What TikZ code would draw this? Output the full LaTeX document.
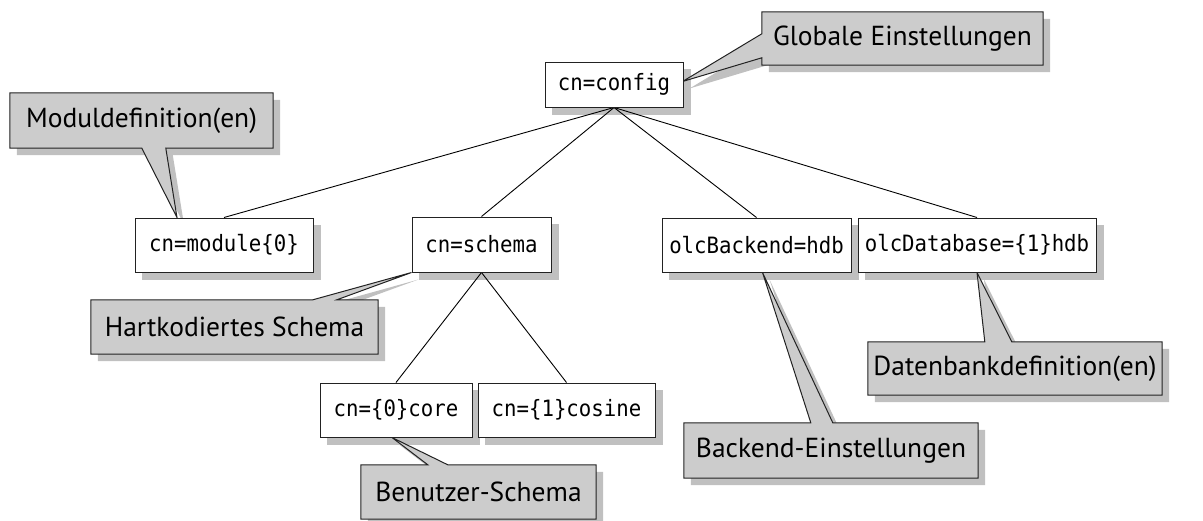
\documentclass[tikz,border=0pt]{standalone}
\usepackage{fontspec}
\setmainfont{PT Sans}
\setmonofont[FakeStretch=0.92]{DejaVu Sans Mono}
\usetikzlibrary{calc}
\pgfdeclarelayer{shadowlayer}
\pgfdeclarelayer{linelayer}
\pgfdeclarelayer{calloutlayer}
\pgfsetlayers{shadowlayer,linelayer,calloutlayer,main}
\definecolor{calloutgray}{HTML}{CCCCCC}
\definecolor{shadowgray}{HTML}{C0C0C0}
\definecolor{edgegray}{HTML}{222222}
\newcommand\pGlob{(glob.north west) -- (glob.north east) -- (glob.south east) -- (glob.south west) -- ($(glob.north west)+(0,46)$) -- ($(config.east)+(-1,-3)$) -- ($(glob.north west)+(0,22)$) -- cycle}
\newcommand\pMd{(md.north west) -- (md.north east) -- (md.south east) -- ($(md.south west)+(156,0)$) -- ($(module.north)+(-47,0)$) -- ($(md.south west)+(132,0)$) -- (md.south west) -- cycle}
\newcommand\pHk{(hk.north west) -- ($(hk.north west)+(222,0)$) -- (schema.south west) -- ($(hk.north west)+(246,0)$) -- (hk.north east) -- (hk.south east) -- (hk.south west) -- cycle}
\newcommand\pBs{(bs.north west) -- ($(bs.north west)+(67,0)$) -- ($(core.south)+(-4,0)$) -- ($(bs.north west)+(87,0)$) -- (bs.north east) -- (bs.south east) -- (bs.south west) -- cycle}
\newcommand\pDb{(db.north west) -- ($(db.north west)+(117,0)$) -- (database.south) -- ($(db.north west)+(144,0)$) -- (db.north east) -- (db.south east) -- (db.south west) -- cycle}
\newcommand\pBe{(be.north west) -- ($(be.north west)+(127,0)$) -- ($(backend.south)+(6,0)$) -- ($(be.north west)+(149,0)$) -- (be.north east) -- (be.south east) -- (be.south west) -- cycle}
\begin{document}
\begin{tikzpicture}[x=1pt,y=-1pt,
  entry/.style={draw=edgegray, line width=1pt, fill=white, font=\fontsize{22.5}{26}\selectfont\ttfamily, inner sep=0pt, anchor=center},
  note/.style={font=\fontsize{27.5}{31}\selectfont, inner sep=0pt, anchor=center},
  balloon/.style={fill=calloutgray, draw=edgegray, line width=1pt, line join=miter},
  shade/.style={fill=shadowgray},
  tree/.style={draw=black, line width=0.9pt}]
\useasboundingbox (0,0) rectangle (1203,520);
% tree boxes
\node[entry, minimum width=138pt, minimum height=45pt] (config) at (614,84.5) {cn=config};
\node[entry, minimum width=178pt, minimum height=54pt] (module) at (224,245) {cn=module\{0\}};
\node[entry, minimum width=139pt, minimum height=55pt] (schema) at (481.5,244.5) {cn=schema};
\node[entry, minimum width=189pt, minimum height=54pt] (backend) at (756.5,245) {olcBackend=hdb};
\node[entry, minimum width=238pt, minimum height=54pt] (database) at (977,245) {olcDatabase=\{1\}hdb};
\node[entry, minimum width=152pt, minimum height=54pt] (core) at (396,410) {cn=\{0\}core};
\node[entry, minimum width=177pt, minimum height=54pt] (cosine) at (566.5,410) {cn=\{1\}cosine};
% callout texts
\node[note, minimum width=281pt, minimum height=53pt] (glob) at (902.5,38.5) {Globale Einstellungen};
\node[note, minimum width=263pt, minimum height=55pt] (md) at (141.5,120.5) {Moduldefinition(en)};
\node[note, minimum width=287pt, minimum height=54pt] (hk) at (234.5,327) {Hartkodiertes Schema};
\node[note, minimum width=235pt, minimum height=54pt] (bs) at (478.5,492) {Benutzer-Schema};
\node[note, minimum width=294pt, minimum height=53pt] (db) at (1015,368.5) {Datenbankdefinition(en)};
\node[note, minimum width=294pt, minimum height=55pt] (be) at (831,450.5) {Backend-Einstellungen};
% connectors
\begin{pgfonlayer}{linelayer}
\draw[tree] (config.south) -- (module.north);
\draw[tree] (config.south) -- (schema.north);
\draw[tree] (config.south) -- (backend.north);
\draw[tree] (config.south) -- (database.north);
\draw[tree] (schema.south) -- (core.north);
\draw[tree] (schema.south) -- (cosine.north);
\end{pgfonlayer}
% callout bodies
\begin{pgfonlayer}{calloutlayer}
\path[balloon] \pGlob;
\path[balloon] \pMd;
\path[balloon] \pHk;
\path[balloon] \pBs;
\path[balloon] \pDb;
\path[balloon] \pBe;
\end{pgfonlayer}
% shadows
\begin{pgfonlayer}{shadowlayer}
\foreach \n in {config,module,schema,backend,database,core,cosine}
  \fill[shade] ([shift={(7,7)}]\n.north west) rectangle ([shift={(7,7)}]\n.south east);
\begin{scope}[transform canvas={shift={(7,7)}}]
\fill[shade] \pGlob;
\fill[shade] \pMd;
\fill[shade] \pHk;
\fill[shade] \pBs;
\fill[shade] \pDb;
\fill[shade] \pBe;
\end{scope}
\end{pgfonlayer}
\end{tikzpicture}
\end{document}
